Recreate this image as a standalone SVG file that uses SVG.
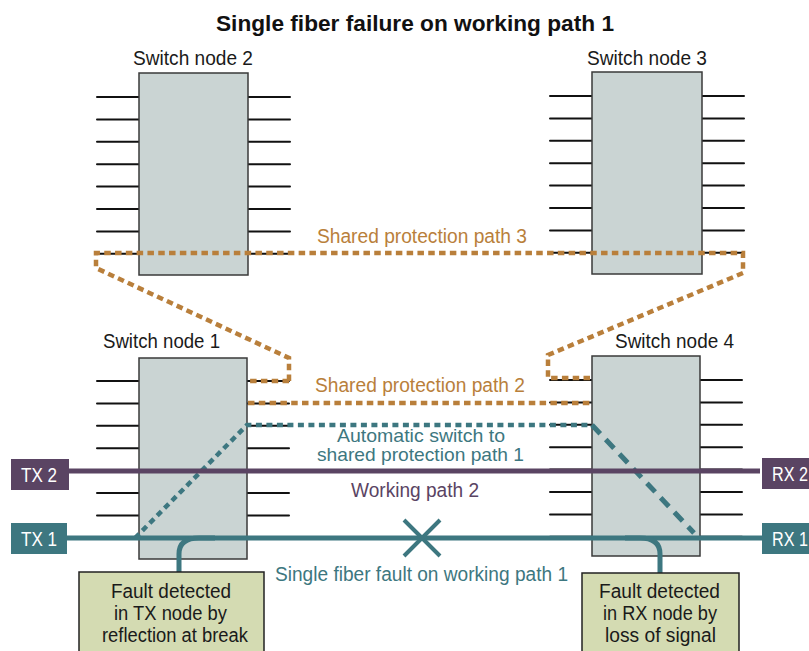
<svg xmlns="http://www.w3.org/2000/svg" width="809" height="651" viewBox="0 0 809 651">
  <style>
    text { font-family: "Liberation Sans Narrow", "Liberation Sans", Arial, sans-serif; font-size: 19.5px; }
    .title { font-weight: bold; font-size: 22px; fill: #111; }
    .lbl { fill: #1a1a1a; }
    .node { fill: #cad4d3; stroke: #3a3a3a; stroke-width: 1.5; }
    .stub { stroke: #111; stroke-width: 2; stroke-linecap: round; }
    .orange { fill: none; stroke: #b97f3b; stroke-width: 4.5; stroke-dasharray: 6.5 4.3; }
    .tealdot { fill: none; stroke: #3d7780; stroke-width: 4.5; stroke-dasharray: 6 4.5; }
    .tealdash { fill: none; stroke: #3d7780; stroke-width: 5; stroke-dasharray: 12 8; }
    .otxt { fill: #b97f3b; }
    .ttxt { fill: #3d7780; }
    .tight { font-size: 18.5px; }
    .ptxt { fill: #5a4463; }
    .fault { fill: #d4dbb2; stroke: #222; stroke-width: 1.5; }
    .tag { fill: #fff; }
  </style>
  <defs>
    <!-- eight port stubs on each side of a switch -->
    <g id="stubsL">
      <line class="stub" x1="0" y1="0" x2="42" y2="0"/>
      <line class="stub" x1="0" y1="22.4" x2="42" y2="22.4"/>
      <line class="stub" x1="0" y1="44.8" x2="42" y2="44.8"/>
      <line class="stub" x1="0" y1="67.2" x2="42" y2="67.2"/>
      <line class="stub" x1="0" y1="89.6" x2="42" y2="89.6"/>
      <line class="stub" x1="0" y1="112" x2="42" y2="112"/>
      <line class="stub" x1="0" y1="134.4" x2="42" y2="134.4"/>
      <line class="stub" x1="0" y1="156.8" x2="42" y2="156.8"/>
    </g>
  </defs>

  <text class="title" x="415" y="31" text-anchor="middle" textLength="398" lengthAdjust="spacingAndGlyphs">Single fiber failure on working path 1</text>

  <!-- Switch node 2 -->
  <g id="switch-node-2">
    <use href="#stubsL" x="97" y="97"/>
    <use href="#stubsL" x="248" y="97"/>
    <rect class="node" x="139" y="73" width="109" height="202"/>
    <text class="lbl" x="193" y="65" text-anchor="middle" textLength="120" lengthAdjust="spacingAndGlyphs">Switch node 2</text>
  </g>

  <!-- Switch node 3 -->
  <g id="switch-node-3">
    <use href="#stubsL" x="550" y="96"/>
    <use href="#stubsL" x="702" y="96"/>
    <rect class="node" x="592" y="72" width="110" height="202"/>
    <text class="lbl" x="647" y="65" text-anchor="middle" textLength="120" lengthAdjust="spacingAndGlyphs">Switch node 3</text>
  </g>

  <!-- Switch node 1 -->
  <g id="switch-node-1">
    <use href="#stubsL" x="97" y="381"/>
    <use href="#stubsL" x="247" y="381"/>
    <rect class="node" x="139" y="358" width="108" height="201"/>
    <text class="lbl" x="161.5" y="348" text-anchor="middle" textLength="117" lengthAdjust="spacingAndGlyphs">Switch node 1</text>
  </g>

  <!-- Switch node 4 -->
  <g id="switch-node-4">
    <use href="#stubsL" x="550" y="380"/>
    <use href="#stubsL" x="700" y="380"/>
    <rect class="node" x="592" y="356" width="108" height="200"/>
    <text class="lbl" x="674.5" y="348" text-anchor="middle" textLength="119" lengthAdjust="spacingAndGlyphs">Switch node 4</text>
  </g>

  <!-- Fibre paths -->
  <g id="connectors">
    <!-- shared protection path 3 -->
    <path class="orange" d="M289 381 H247 M289 381 V358 L96 268 V253 H743 V273 L548 355 V378 H592"/>
    <!-- shared protection path 2 -->
    <path class="orange" d="M248 403 H592"/>
    <!-- automatic switch to shared protection path 1 -->
    <path class="tealdot" d="M135 538 L247 425 H592"/>
    <path class="tealdash" d="M592 425 L694 533"/>
    <!-- working path 2 -->
    <line x1="69" y1="471" x2="760" y2="471" stroke="#5a4463" stroke-width="5"/>
    <!-- working path 1 -->
    <line x1="66" y1="538" x2="762" y2="538" stroke="#3d7780" stroke-width="5"/>
    <!-- fibre break -->
    <path d="M404 520 L440 556 M440 520 L404 556" stroke="#3d7780" stroke-width="4" fill="none"/>
    <!-- fault detection leaders -->
    <path d="M179 573 V554 Q179 538 199 538 H215" stroke="#3d7780" stroke-width="5" fill="none"/>
    <path d="M660 574 V554 Q660 538 640 538 H625" stroke="#3d7780" stroke-width="5" fill="none"/>
  </g>

  <!-- path labels -->
  <text class="otxt" x="422" y="243" text-anchor="middle" textLength="210" lengthAdjust="spacingAndGlyphs">Shared protection path 3</text>
  <text class="otxt" x="420" y="392" text-anchor="middle" textLength="210" lengthAdjust="spacingAndGlyphs">Shared protection path 2</text>
  <text class="ttxt tight" x="421" y="442" text-anchor="middle" textLength="168" lengthAdjust="spacingAndGlyphs">Automatic switch to</text>
  <text class="ttxt tight" x="420.5" y="461" text-anchor="middle" textLength="207" lengthAdjust="spacingAndGlyphs">shared protection path 1</text>
  <text class="ptxt" x="415" y="497" text-anchor="middle" textLength="128" lengthAdjust="spacingAndGlyphs">Working path 2</text>
  <text class="ttxt" x="421.5" y="581" text-anchor="middle" textLength="293" lengthAdjust="spacingAndGlyphs">Single fiber fault on working path 1</text>

  <!-- terminals -->
  <g id="tx2">
    <rect x="11" y="459" width="58" height="31" fill="#5a4463"/>
    <text class="tag" x="39" y="482" text-anchor="middle" textLength="36" lengthAdjust="spacingAndGlyphs">TX 2</text>
  </g>
  <g id="tx1">
    <rect x="11" y="523" width="56" height="31" fill="#3d7780"/>
    <text class="tag" x="39" y="546" text-anchor="middle" textLength="36" lengthAdjust="spacingAndGlyphs">TX 1</text>
  </g>
  <g id="rx2">
    <rect x="762" y="458" width="60" height="31" fill="#5a4463"/>
    <text class="tag" x="772" y="481" textLength="36" lengthAdjust="spacingAndGlyphs">RX 2</text>
  </g>
  <g id="rx1">
    <rect x="762" y="523" width="60" height="31" fill="#3d7780"/>
    <text class="tag" x="772" y="546" textLength="36" lengthAdjust="spacingAndGlyphs">RX 1</text>
  </g>

  <!-- fault detection notes -->
  <g id="fault-tx">
    <rect class="fault" x="79" y="572" width="185" height="90"/>
    <text class="lbl" x="171" y="598" text-anchor="middle" textLength="120" lengthAdjust="spacingAndGlyphs">Fault detected</text>
    <text class="lbl" x="170.5" y="620" text-anchor="middle" textLength="113" lengthAdjust="spacingAndGlyphs">in TX node by</text>
    <text class="lbl" x="175" y="642" text-anchor="middle" textLength="146" lengthAdjust="spacingAndGlyphs">reflection at break</text>
  </g>
  <g id="fault-rx">
    <rect class="fault" x="582" y="573" width="157" height="90"/>
    <text class="lbl" x="659.5" y="598" text-anchor="middle" textLength="121" lengthAdjust="spacingAndGlyphs">Fault detected</text>
    <text class="lbl" x="660" y="620" text-anchor="middle" textLength="114" lengthAdjust="spacingAndGlyphs">in RX node by</text>
    <text class="lbl" x="660.5" y="642" text-anchor="middle" textLength="111" lengthAdjust="spacingAndGlyphs">loss of signal</text>
  </g>
</svg>
